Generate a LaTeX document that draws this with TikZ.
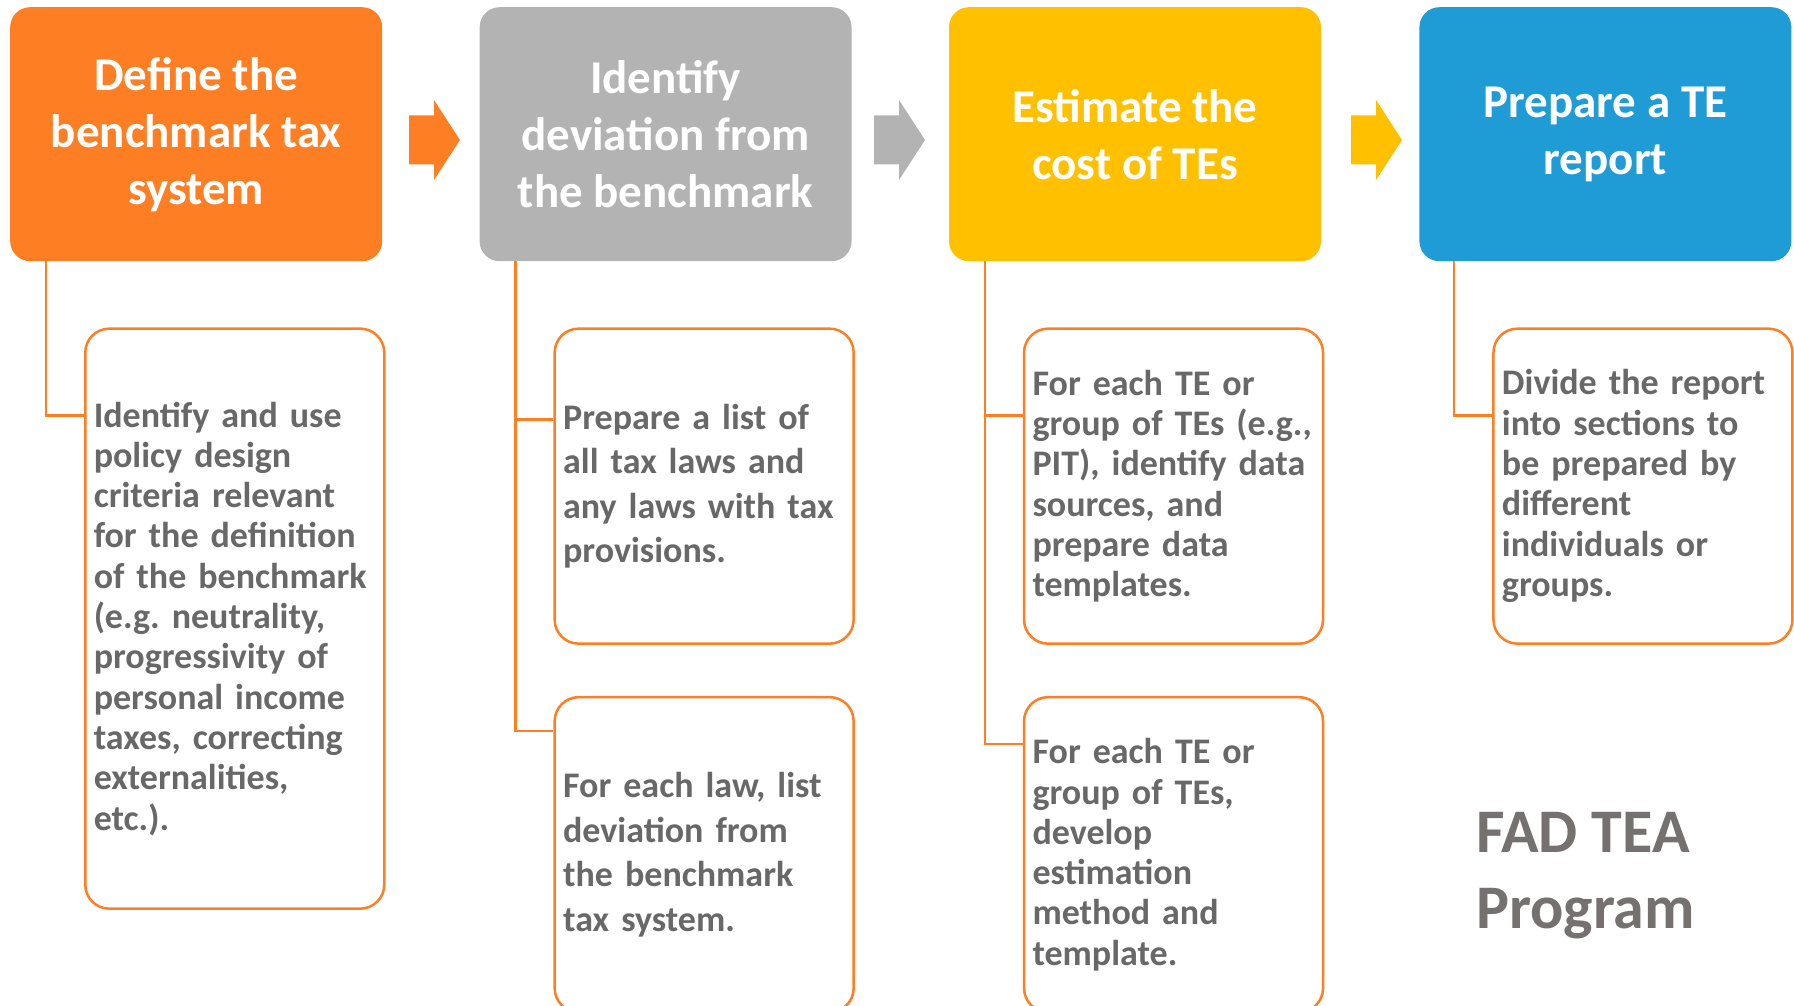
\documentclass[tikz,border=0pt]{standalone}
\usepackage{fontspec}
\setmainfont{Carlito}
\usetikzlibrary{positioning}
\hyphenpenalty=10000
\exhyphenpenalty=10000
\definecolor{teaorange}{RGB}{253,126,35}
\definecolor{teagrey}{RGB}{179,179,179}
\definecolor{teayellow}{RGB}{255,192,0}
\definecolor{teablue}{RGB}{31,156,214}
\definecolor{bodytext}{RGB}{104,104,104}
\definecolor{fadtext}{RGB}{118,113,113}
\tikzset{
  hd/.style={rectangle, rounded corners=20pt, fill=#1, minimum width=372pt, minimum height=254pt,
    inner sep=0pt, align=center, text=white, font=\fontsize{47pt}{57pt}\selectfont\bfseries},
  sb/.style={rectangle, rounded corners=24pt, draw=teaorange, line width=2.5pt, text width=282pt,
    inner xsep=8.5pt, inner ysep=0pt, minimum height=#1, align=left, text=bodytext,
    font=\fontsize{36pt}{40.3pt}\selectfont\bfseries},
  ln/.style={draw=teaorange, line width=2.5pt},
  arw/.pic={\path[pic actions] (0,-24.5) -- (25,-24.5) -- (25,-40) -- (51,0) -- (25,40) -- (25,24.5) -- (0,24.5) -- cycle;}
}
\begin{document}
\begin{tikzpicture}[x=1pt, y=-1pt]
  \useasboundingbox (0,0) rectangle (1794,1006);
  % steps
  \node[hd=teaorange, anchor=north west] (def) at (10,7) {Define the\\benchmark tax\\system};
  \node[hd=teagrey, right=97pt of def] (dev) {Identify\\deviation from\\the benchmark};
  \node[hd=teayellow, right=97pt of dev] (est) {Estimate the\\cost of TEs};
  \node[hd=teablue, right=98pt of est] (rep) {Prepare a TE\\report};
  \pic[fill=teaorange] at (409,140) {arw};
  \pic[fill=teagrey] at (874,140) {arw};
  \pic[fill=teayellow] at (1351,140) {arw};
  % tasks
  \node[sb=580pt, below right=66pt and 74pt of def.south west] (d1) {Identify and use\\policy design\\criteria relevant\\for the definition\\of the benchmark\\(e.g.\ neutrality,\\progressivity of\\personal income\\taxes, correcting\\externalities,\\etc.).};
  \node[sb=315pt, below right=66pt and 74pt of dev.south west, font=\fontsize{36pt}{44.6pt}\selectfont\bfseries] (l1) {Prepare a list of\\all tax laws and\\any laws with tax\\provisions.};
  \node[sb=315pt, below=51pt of l1, font=\fontsize{36pt}{44.6pt}\selectfont\bfseries] (l2) {For each law, list\\deviation from\\the benchmark\\tax system.};
  \node[sb=315pt, below right=66pt and 74pt of est.south west] (c1) {For each TE or\\group of TEs (e.g.,\\PIT), identify data\\sources, and\\prepare data\\templates.};
  \node[sb=315pt, below=51pt of c1] (c2) {For each TE or\\group of TEs,\\develop\\estimation\\method and\\template.};
  \node[sb=315pt, below right=66pt and 73pt of rep.south west] (r1) {Divide the report\\into sections to\\be prepared by\\different\\individuals or\\groups.};
  \node[anchor=west, inner sep=0pt, align=left, text=fadtext, font=\fontsize{62pt}{76pt}\selectfont\bfseries] (fad) at (1476,876) {FAD TEA\\Program};
  % connectors
  \draw[ln] ([xshift=36pt]def.south west) |- ([yshift=-88pt]d1.north west);
  \draw[ln] ([xshift=36pt]dev.south west) |- ([yshift=-92pt]l1.north west);
  \draw[ln] ([xshift=36pt]dev.south west) |- ([yshift=-35pt]l2.north west);
  \draw[ln] ([xshift=36pt]est.south west) |- ([yshift=-88pt]c1.north west);
  \draw[ln] ([xshift=36pt]est.south west) |- ([yshift=-48pt]c2.north west);
  \draw[ln] ([xshift=35pt]rep.south west) |- ([yshift=-88pt]r1.north west);
\end{tikzpicture}
\end{document}
